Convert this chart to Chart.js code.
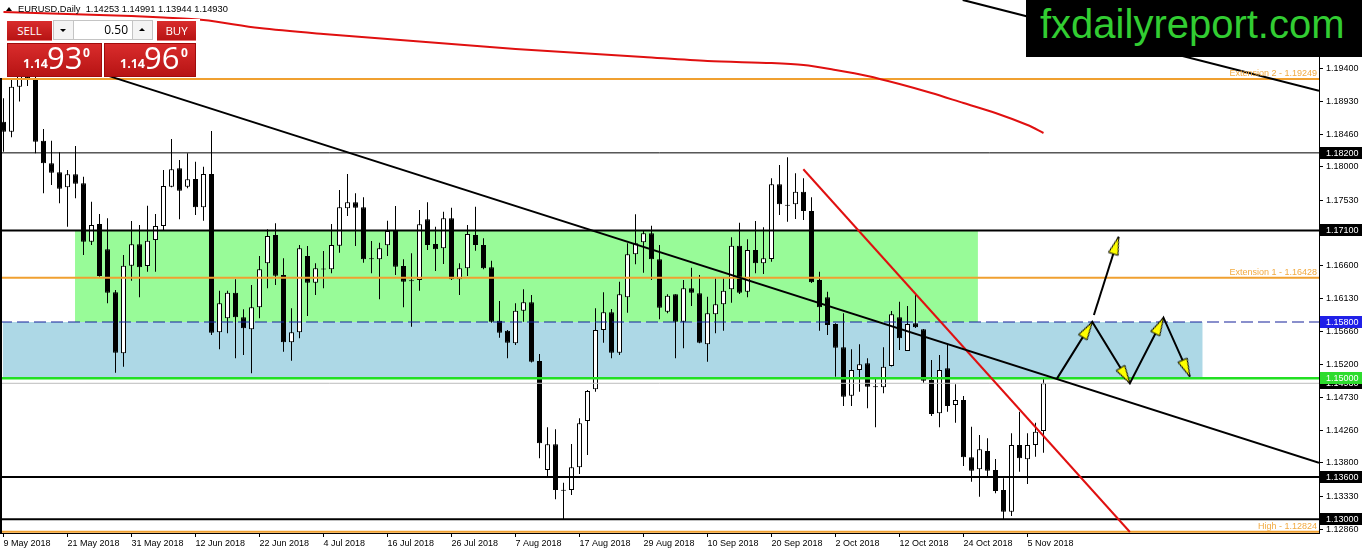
<!DOCTYPE html>
<html>
<head>
<meta charset="utf-8">
<title>EURUSD Daily</title>
<script src="https://cdn.jsdelivr.net/npm/chart.js@4.4.1/dist/chart.umd.min.js"></script>
<style>
html,body{margin:0;padding:0;background:#fff;overflow:hidden;}
#wrap{position:relative;width:1362px;height:554px;}
#c{position:absolute;left:0;top:0;}
.ov{position:absolute;}
#hdr{left:6px;top:3px;font-family:"Liberation Sans",Arial,sans-serif;font-size:9.3px;line-height:13px;white-space:pre;color:#000;}
#hdr i{display:inline-block;width:0;height:0;border-left:3px solid transparent;border-right:3px solid transparent;border-bottom:4px solid #000;margin-right:6px;vertical-align:1px;}
#panel{left:0;top:19px;width:200px;height:58px;background:#fff;}
.red{position:absolute;background:linear-gradient(#d92c2c,#b71414);color:#fff;font-family:"Open Sans",sans-serif;box-sizing:border-box;}
.btn{font-size:11.5px;text-align:center;line-height:19px;height:20px;top:2px;border-bottom:1px solid #e77;}
#lot{position:absolute;left:53px;top:1px;width:100px;height:20px;background:#f2f2f2;border:1px solid #c4c4c4;box-sizing:border-box;font-family:"Open Sans",sans-serif;}
#lot .ar{position:absolute;top:0;width:19px;height:18px;background:#f4f4f4;}
#lot .dn{left:0;border-right:1px solid #c4c4c4;}
#lot .up{right:0;border-left:1px solid #c4c4c4;}
#lot .dn:after{content:"";position:absolute;left:6px;top:8px;border-left:3px solid transparent;border-right:3px solid transparent;border-top:3px solid #000;}
#lot .up:after{content:"";position:absolute;left:6px;top:7px;border-left:3px solid transparent;border-right:3px solid transparent;border-bottom:3px solid #000;}
#lot .val{position:absolute;left:20px;top:0;width:58px;height:18px;background:#fff;text-align:right;font-size:12px;line-height:18px;box-sizing:border-box;padding-right:4px;color:#000;}
.price{top:24px;height:34px;border:1px solid #a00c0c;}
.price span{position:absolute;white-space:nowrap;}
.price .sm{font-size:12.5px;font-weight:bold;line-height:12.5px;top:14px;left:15px;}
.price .big{font-size:31px;line-height:31px;top:-2px;left:39px;}
.price .sup{font-size:12px;font-weight:bold;line-height:12px;top:3px;}
#logo{left:1026px;top:0;width:336px;height:57px;background:#000;color:#32cd32;font-family:"Liberation Sans",Arial,sans-serif;font-size:40px;line-height:48px;padding-left:14px;box-sizing:border-box;white-space:nowrap;}
</style>
</head>
<body>
<div id="wrap">
<canvas id="c" width="1362" height="554"></canvas>
<div id="logo" class="ov">fxdailyreport.com</div>
<div id="hdr" class="ov"><i></i>EURUSD,Daily  1.14253 1.14991 1.13944 1.14930</div>
<div id="panel" class="ov">
  <div class="red btn" style="left:7px;width:45px;">SELL</div>
  <div id="lot"><div class="ar dn"></div><div class="val">0.50</div><div class="ar up"></div></div>
  <div class="red btn" style="left:157px;width:39px;">BUY</div>
  <div class="red price" style="left:7px;width:95px;"><span class="sm">1.14</span><span class="big">93</span><span class="sup" style="left:75px">0</span></div>
  <div class="red price" style="left:104px;width:92px;"><span class="sm">1.14</span><span class="big">96</span><span class="sup" style="left:76px">0</span></div>
</div>
</div>
<script>
// ---------- DATA ----------
const xTickIdx = [0,8,16,24,32,40,48,56,64,72,80,88,96,104,112,120,128];
const xTickLabels = ["9 May 2018","21 May 2018","31 May 2018","12 Jun 2018","22 Jun 2018","4 Jul 2018","16 Jul 2018","26 Jul 2018","7 Aug 2018","17 Aug 2018","29 Aug 2018","10 Sep 2018","20 Sep 2018","2 Oct 2018","12 Oct 2018","24 Oct 2018","5 Nov 2018"];
const yTicks = [1.19400,1.18930,1.18460,1.18000,1.17530,1.16600,1.16130,1.15660,1.15200,1.14730,1.14260,1.13800,1.13330,1.12860];

const O = [
1.18642,1.18500,1.19139,1.19420,1.19250,1.18373,1.18052,1.17924,1.17711,1.17896,
1.17768,1.16939,1.17190,1.16831,1.16221,1.15356,1.16599,1.16902,1.16595,1.16963,
1.17162,1.17720,1.17981,1.17720,1.17829,1.17427,1.17900,1.15654,1.15852,1.16216,
1.15867,1.15696,1.16008,1.16633,1.17034,1.16467,1.15512,1.15654,1.16736,1.16358,
1.16560,1.16548,1.16883,1.17413,1.17498,1.17427,1.16704,1.16690,1.16888,1.17091,
1.16595,1.16386,1.16396,1.17257,1.16907,1.16846,1.17271,1.16406,1.16562,1.17034,
1.16892,1.16576,1.15818,1.15676,1.15498,1.15960,1.16079,1.15246,1.13700,1.14064,
1.13406,1.13416,1.13738,1.14395,1.14845,1.15686,1.15938,1.15364,1.16150,1.16761,
1.16931,1.17059,1.16690,1.15946,1.16193,1.15804,1.16278,1.16207,1.15483,1.15909,
1.16051,1.16264,1.16883,1.16230,1.16822,1.16633,1.16694,1.17754,1.17460,1.17470,
1.17649,1.17375,1.16396,1.16150,1.15771,1.15441,1.14754,1.15119,1.15214,1.14882,
1.14873,1.15176,1.15867,1.15388,1.15781,1.15696,1.14977,1.14504,1.15143,1.14622,
1.14693,1.13880,1.13710,1.13969,1.13700,1.13416,1.13108,1.14054,1.13852,1.14054,
1.14253];
const H = [
1.18974,1.19262,1.19970,1.19960,1.19350,1.18539,1.18373,1.18208,1.17957,1.18297,
1.17862,1.17507,1.17332,1.17271,1.16254,1.16751,1.17233,1.17176,1.17450,1.17332,
1.17957,1.18397,1.18099,1.18194,1.18075,1.18004,1.18510,1.16244,1.16244,1.16406,
1.15980,1.16325,1.16736,1.17115,1.17200,1.16704,1.15994,1.16892,1.16878,1.16633,
1.16807,1.17190,1.17673,1.17900,1.17626,1.17569,1.16949,1.16925,1.17237,1.17446,
1.16690,1.16775,1.17389,1.17498,1.17152,1.17365,1.17422,1.16633,1.17176,1.17436,
1.16988,1.16670,1.16098,1.15686,1.16065,1.16264,1.16183,1.15346,1.14306,1.14277,
1.13520,1.14069,1.14433,1.14835,1.15994,1.16221,1.15984,1.16372,1.16917,1.17328,
1.17091,1.17166,1.16892,1.16193,1.16193,1.16396,1.16570,1.16467,1.16159,1.16420,
1.16420,1.17002,1.17209,1.16973,1.17233,1.17144,1.17839,1.18028,1.18137,1.17910,
1.17839,1.17569,1.16514,1.16230,1.15781,1.15923,1.15412,1.15483,1.15285,1.15009,
1.15441,1.15956,1.16088,1.16027,1.16183,1.15702,1.15261,1.15332,1.15473,1.14916,
1.14750,1.14314,1.14196,1.14150,1.13856,1.13582,1.14221,1.14527,1.14221,1.14371,
1.14991];
const L = [
1.18216,1.18421,1.18930,1.19150,1.18194,1.17626,1.17744,1.17484,1.17152,1.17555,
1.16751,1.16892,1.16443,1.16065,1.15080,1.15166,1.16386,1.16150,1.16514,1.16514,
1.17105,1.17711,1.17257,1.17697,1.17318,1.17237,1.15615,1.15412,1.15640,1.15285,
1.15332,1.15072,1.15852,1.16278,1.16325,1.15378,1.15251,1.15569,1.15885,1.16183,
1.16278,1.16491,1.16783,1.17304,1.16878,1.16641,1.16491,1.16122,1.16736,1.16467,
1.16008,1.15733,1.16244,1.16822,1.16524,1.16623,1.16396,1.16183,1.16453,1.16812,
1.16548,1.15790,1.15577,1.15285,1.15473,1.15804,1.15225,1.13866,1.13615,1.13284,
1.13000,1.13345,1.13643,1.13913,1.14811,1.15506,1.15285,1.15332,1.15932,1.16619,
1.16499,1.16396,1.15838,1.15923,1.15285,1.15427,1.16027,1.15498,1.15237,1.15640,
1.15676,1.16074,1.16197,1.16150,1.16491,1.16481,1.16656,1.17318,1.17223,1.17261,
1.17247,1.16353,1.15676,1.15615,1.15024,1.14608,1.14608,1.14811,1.14575,1.14306,
1.14788,1.15169,1.15403,1.15388,1.15715,1.14938,1.14466,1.14306,1.14527,1.14371,
1.13757,1.13534,1.13321,1.13605,1.13369,1.13000,1.13047,1.13676,1.13501,1.13888,
1.13944];
const C = [
1.18500,1.19139,1.19420,1.19250,1.18358,1.18052,1.17918,1.17691,1.17896,1.17762,
1.16939,1.17176,1.16453,1.16216,1.15364,1.16599,1.16902,1.16576,1.16954,1.17162,
1.17730,1.17967,1.17663,1.17825,1.17427,1.17900,1.15648,1.16065,1.16216,1.15867,
1.15710,1.16008,1.16548,1.17020,1.16457,1.15512,1.15654,1.16846,1.16358,1.16562,
1.16545,1.16892,1.17427,1.17498,1.17422,1.16690,1.16690,1.16846,1.17091,1.16585,
1.16372,1.16377,1.17186,1.16892,1.16831,1.17271,1.16406,1.16562,1.17049,1.16892,
1.16562,1.15804,1.15648,1.15506,1.15960,1.16079,1.15237,1.14079,1.14064,1.13416,
1.13416,1.13738,1.14362,1.14821,1.15686,1.15938,1.15364,1.16193,1.16761,1.16917,
1.17059,1.16690,1.16003,1.16173,1.15804,1.16278,1.16216,1.15506,1.15923,1.16051,
1.16244,1.16883,1.16216,1.16822,1.16633,1.16704,1.17754,1.17470,1.17450,1.17649,
1.17375,1.16363,1.16008,1.15757,1.15435,1.14740,1.15119,1.15200,1.14882,1.14873,
1.15166,1.15909,1.15569,1.15771,1.15725,1.14967,1.14494,1.15119,1.14608,1.14693,
1.13880,1.13690,1.13993,1.13690,1.13402,1.13108,1.14054,1.13866,1.14054,1.14243,
1.14930];

// moving average (read at sampled bars)
const maIdx = [0,8,16,20,25,32,40,48,56,64,72,80,88,96,100,104,108,112,116,120,124,128,130];
const maVal = [1.20199,1.20170,1.20142,1.20121,1.20085,1.19972,1.19887,1.19816,1.19745,1.19674,1.19617,1.19560,1.19503,1.19475,1.19447,1.19376,1.19291,1.19177,1.19049,1.18907,1.18766,1.18595,1.18482];

// horizontal levels
const hLevels = [1.19249,1.18200,1.17100,1.16428,1.15800,1.15000,1.14930,1.13600,1.13000,1.12824];
const levelLabels = ["Extension 2 - 1.19249","Extension 1 - 1.16428","High - 1.12824"];
const levelLabelValues = [1.19249,1.16428,1.12824];
const axisMarks = [1.18200,1.17100,1.15800,1.14930,1.15000,1.13600,1.13000];

// zones [bar index from, to] x [price top, bottom]
const greenZoneX = [8.94,121.8], greenZoneY = [1.17100,1.15800];
const blueZoneX = [-0.1,149.9], blueZoneY = [1.15800,1.15000];

// trend lines (bar index, price)
const trendBlackX = [7.06,164.44], trendBlackY = [1.19512,1.13803];
const trendTopX = [119.9,164.44], trendTopY = [1.20370,1.19082];
const trendRedX = [99.98,140.8], trendRedY = [1.17967,1.12820];

// projection arrows
const pathX = [131.7,136.1,140.8,145.0,148.3], pathY = [1.15000,1.15800,1.14930,1.15861,1.15024];
const upX = [136.3,139.4], upY = [1.15899,1.17010];

// ---------- VIEW ----------
const X_MIN = -0.4375, X_MAX = 164.4375;
const Y_MIN = 1.128057, Y_MAX = 1.203692;
const FONT = '"Liberation Sans", Arial, sans-serif';
const ORANGE = '#F0A030';
const hStyles = [
 {c:ORANGE,w:2},{c:'#000',w:1},{c:'#000',w:2},{c:ORANGE,w:2},{c:'#14209a',w:1.2,d:[12,5]},
 {c:'#22e022',w:2.5},{c:'#bdbdbd',w:1},{c:'#000',w:2},{c:'#000',w:2},{c:ORANGE,w:2}];
const axisMarkBg = ['#000','#000','#2020e8','#000','#2ddc2d','#000','#000'];

Chart.defaults.font.family = FONT;

const idx = O.map((_, i) => i);
const pts = (xs, ys) => xs.map((x, i) => ({x, y: ys[i]}));

function arrowHead() {
  const c = document.createElement('canvas');
  c.width = 11; c.height = 38;
  const g = c.getContext('2d');
  g.beginPath(); g.moveTo(5.5, 19); g.lineTo(10.5, 37); g.lineTo(0.5, 37); g.closePath();
  g.fillStyle = '#ffff00'; g.fill();
  g.strokeStyle = '#000'; g.lineWidth = 1; g.stroke();
  return c;
}
const head = arrowHead();
function headRotation(c) {
  const d = c.dataset.data, i = c.dataIndex;
  if (i === 0) return 0;
  const xs = c.chart.scales.x, ys = c.chart.scales.y;
  const dx = xs.getPixelForValue(d[i].x) - xs.getPixelForValue(d[i-1].x);
  const dy = ys.getPixelForValue(d[i].y) - ys.getPixelForValue(d[i-1].y);
  return Math.atan2(dx, -dy) * 180 / Math.PI;
}

const datasets = [];
datasets.push({type:'line', data: pts(greenZoneX, [greenZoneY[0], greenZoneY[0]]), fill:{value: greenZoneY[1]},
  backgroundColor:'#98FB98', borderColor:'rgba(0,0,0,0)', borderWidth:1, pointRadius:0, order:30});
datasets.push({type:'line', data: pts(blueZoneX, [blueZoneY[0], blueZoneY[0]]), fill:{value: blueZoneY[1]},
  backgroundColor:'#ADD8E6', borderColor:'rgba(0,0,0,0)', borderWidth:1, pointRadius:0, order:29});
datasets.push({type:'bar', data: idx.map(i => ({x:i, y:[L[i], H[i]]})), backgroundColor:'#000',
  borderWidth:0, barThickness:1, grouped:false, inflateAmount:0, order:21});
datasets.push({type:'bar', data: idx.map(i => ({x:i, y:[O[i], C[i]]})),
  backgroundColor: idx.map(i => C[i] >= O[i] ? '#fff' : '#000'), borderColor:'#000', borderWidth:1,
  borderSkipped:false, barThickness:5, minBarLength:1, grouped:false, inflateAmount:0, order:20});
hLevels.forEach((v, i) => datasets.push({type:'line', data: pts([X_MIN, X_MAX], [v, v]),
  borderColor:hStyles[i].c, borderWidth:hStyles[i].w, borderDash:hStyles[i].d || [], pointRadius:0, fill:false, order:10}));
datasets.push({type:'line', data: pts(maIdx, maVal), borderColor:'#e01010', borderWidth:2, pointRadius:0, fill:false, tension:0.3, order:8});
datasets.push({type:'line', data: pts(trendBlackX, trendBlackY), borderColor:'#000', borderWidth:2, pointRadius:0, fill:false, order:5});
datasets.push({type:'line', data: pts(trendTopX, trendTopY), borderColor:'#000', borderWidth:2, pointRadius:0, fill:false, order:5});
datasets.push({type:'line', data: pts(trendRedX, trendRedY), borderColor:'#e01010', borderWidth:2, pointRadius:0, fill:false, order:5});
[[pathX, pathY], [upX, upY]].forEach(([xs, ys]) => datasets.push({type:'line', data: pts(xs, ys),
  borderColor:'#000', borderWidth:2, fill:false, order:1,
  pointStyle: head, pointRadius: c => c.dataIndex === 0 ? 0 : 4, pointRotation: headRotation}));

const overlay = {
  id: 'overlay',
  afterDatasetsDraw(chart) {
    const {ctx, chartArea: a, scales: {y}} = chart;
    ctx.save();
    ctx.font = '9px ' + FONT;
    ctx.fillStyle = '#F2AA40'; ctx.textAlign = 'right'; ctx.textBaseline = 'alphabetic';
    levelLabels.forEach((t, i) => ctx.fillText(t, a.right - 2, y.getPixelForValue(levelLabelValues[i]) - 2.5));
    ctx.restore();
  },
  afterDraw(chart) {
    const {ctx, chartArea: a, scales: {y}} = chart;
    ctx.save();
    ctx.fillStyle = '#000';
    ctx.fillRect(0, 78, 2, a.bottom - 78);
    ctx.font = '9px ' + FONT; ctx.textBaseline = 'middle'; ctx.textAlign = 'left';
    axisMarks.forEach((v, i) => {
      const py = Math.round(y.getPixelForValue(v));
      ctx.fillStyle = axisMarkBg[i];
      ctx.fillRect(a.right + 1, py - 6, chart.width - a.right - 1, 12);
      ctx.fillStyle = '#fff';
      ctx.fillText(v.toFixed(5), a.right + 7, py + 0.5);
    });
    ctx.restore();
  }
};

new Chart(document.getElementById('c'), {
  type: 'line',
  data: { datasets },
  options: {
    responsive: false, animation: false, events: [],
    layout: { autoPadding: false, padding: 0 },
    plugins: { legend: {display:false}, tooltip: {enabled:false} },
    scales: {
      x: { type:'linear', min:X_MIN, max:X_MAX, offset:false,
        afterBuildTicks: s => { s.ticks = xTickIdx.map(v => ({value:v})); },
        afterFit: s => { s.height = 21; s.paddingLeft = 0; s.paddingRight = 0; },
        ticks: { autoSkip:false, maxRotation:0, minRotation:0, align:'start', padding:1,
          callback: (v, i) => xTickLabels[i], font:{size:9, family:FONT}, color:'#000' },
        grid: { drawOnChartArea:false, drawTicks:true, tickLength:4, color:'#000', offset:false },
        border: { display:true, color:'#000', width:1 } },
      y: { type:'linear', position:'right', min:Y_MIN, max:Y_MAX, beginAtZero:false,
        afterBuildTicks: s => { s.ticks = yTicks.map(v => ({value:v})); },
        afterFit: s => { s.width = 43; s.paddingTop = 0; s.paddingBottom = 0; },
        ticks: { autoSkip:false, padding:3, callback: v => Number(v).toFixed(5), font:{size:9, family:FONT}, color:'#000' },
        grid: { drawOnChartArea:false, drawTicks:true, tickLength:4, color:'#000' },
        border: { display:true, color:'#000', width:1 } }
    }
  },
  plugins: [overlay]
});
</script>
</body>
</html>
